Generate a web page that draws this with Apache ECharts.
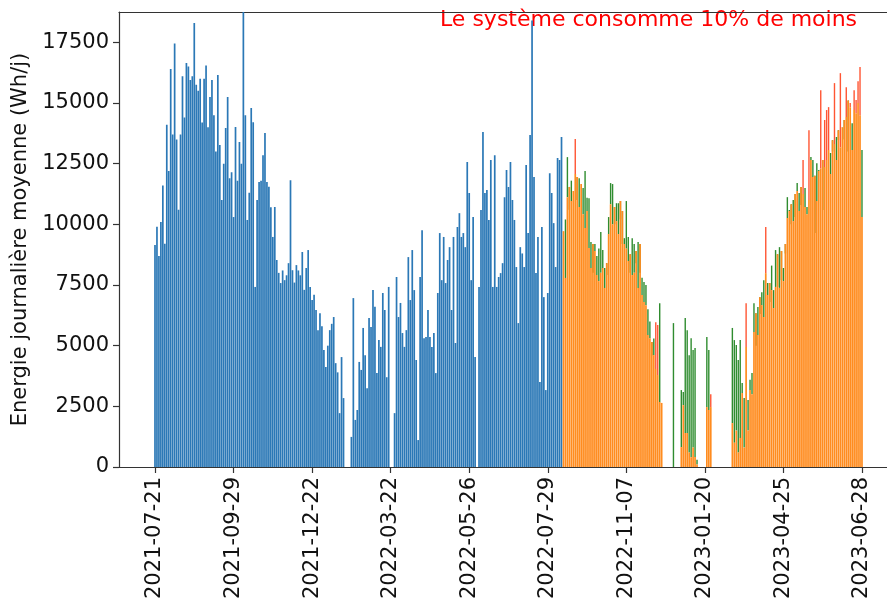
<!DOCTYPE html>
<html>
<head>
<meta charset="utf-8">
<title>Energie journalière moyenne</title>
<script src="https://cdn.jsdelivr.net/npm/echarts@6/dist/echarts.min.js"></script>
<style>
  html, body { margin: 0; padding: 0; background: #fff; }
  #chart { width: 887px; height: 607px; }
</style>
</head>
<body>
<div id="chart"></div>
<script>
// bar index -> date tick labels (one tick every 40 bars)
var xTickPos = [0, 40, 80, 120, 160, 200, 240, 280, 320, 360];
var xTickLabels = ['2021-07-21', '2021-09-29', '2021-12-22', '2022-03-22', '2022-05-26',
  '2022-07-29', '2022-11-07', '2023-01-20', '2023-04-25', '2023-06-28'];
var yTicks = [0, 2500, 5000, 7500, 10000, 12500, 15000, 17500];

// before the new system (bars 0..207)
var blueVals = [
  9150, 9900, 8700, 10100, 11600, 9200, 14100, 12200, 16400, 13700,
  17450, 13500, 10600, 13700, 16100, 14400, 16650, 16500, 15950, 16100,
  18300, 15750, 15500, 16000, 14200, 16000, 16550, 14000, 15250, 15950,
  14500, 13000, 16150, 13270, 11000, 12500, 13970, 15250, 11900, 12150,
  10300, 14010, 11800, 13390, 12500, 18750, 14500, 10180, 11300, 14790,
  14210, 7420, 11000, 11740, 11800, 12850, 13760, 11740, 11550, 10700,
  9480, 10710, 8530, 8000, 7580, 8100, 7700, 7900, 8400, 11820,
  8110, 7600, 8320, 8100, 7900, 8860, 7300, 8200, 8940, 7420,
  6880, 7100, 6470, 5640, 6340, 5800, 4820, 4120, 5000, 5640,
  5900, 6180, 4280, 3900, 2220, 4530, 2840, 0, 0, 0,
  1240, 6960, 1940, 2350, 4330, 4000, 5730, 4610, 3250, 6140,
  5770, 7290, 6600, 3870, 5230, 4950, 7170, 6470, 3700, 7420,
  0, 0, 2220, 7830, 6180, 6760, 5520, 4950, 5640, 8650,
  6880, 8940, 7290, 4410, 1110, 7830, 9760, 5310, 5360, 6470,
  5360, 4950, 5520, 3870, 7170, 9640, 7700, 9480, 7580, 8530,
  9060, 6470, 9480, 5110, 9890, 10460, 9480, 9640, 9060, 12570,
  11290, 7700, 10300, 4530, 0, 7420, 10590, 13800, 11290, 11410,
  10180, 12650, 7420, 12850, 7420, 7830, 7990, 8400, 11120, 12240,
  11540, 12570, 11000, 10180, 8240, 5930, 9060, 8800, 8240, 12440,
  9640, 13680, 18400, 11950, 7990, 9480, 3500, 9890, 7000, 3170,
  7170, 12110, 11290, 10050, 8240, 12730, 12650, 13600
];

// with the new system (bars 208..360)
var orangeStart = 208;
var orangeVals = [
  9720, 7790, 11120, 11540, 10960, 11370, 12070, 11950, 10710, 11660,
  10420, 9850, 10550, 9020, 8200, 9190, 8900, 7910, 7660, 8000,
  8200, 7380, 8400, 9600, 10830, 10000, 10710, 10130, 9600, 10960,
  10550, 9190, 9000, 8490, 8770, 7910, 8000, 8900, 7380, 9190,
  7090, 6800, 6670, 5440, 5310, 5150, 4610, 4040, 3790, 2680,
  2640, 0, 0, 0, 0, 0, 0, 0, 0, 0,
  820, 2550, 1400, 1400, 600, 400, 800, 410, 100, 0,
  0, 0, 0, 2470, 2350, 2470, 0, 0, 0, 0,
  0, 0, 0, 0, 0, 0, 1810, 1000, 1500, 600,
  1200, 3050, 800, 4950, 1500, 3170, 3000, 5560, 6340, 5440,
  7000, 6670, 6180, 7990, 7090, 7580, 7290, 6550, 7420, 8770,
  7380, 8900, 7660, 9190, 10260, 10550, 10830, 10130, 11250, 11370,
  10550, 11540, 11250, 10710, 10420, 11000, 12650, 11950, 12000, 10960,
  12200, 12300, 12650, 12360, 12650, 13060, 12070, 13470, 13310, 12650,
  13880, 13180, 14000, 14300, 14420, 15100, 14830, 13060, 14710, 14580,
  15000, 14500, 10300
];
// reference values shown as thin green / red marks against the orange bars
var greenVals = [
  null, 10200, 12770, 10600, 11800, null, null, 11000, 11900, null,
  11500, 12200, 11100, 11080, 9270, 8000, 9190, 8700, 9000, 9680,
  8940, 8200, 7910, 10300, 11700, 11660, 10000, 10870, 10870, 10200,
  9190, 9430, 10960, 9480, 8000, 9430, 9190, 8400, 9270, 8000,
  7800, 7620, 7500, 6500, 6000, 4610, 5300, null, null, 6750,
  null, null, null, null, null, null, 5930, null, null, null,
  3170, 3090, 6140, 5640, 4610, 5310, 4820, 4900, 300, null,
  null, null, null, 5360, 4820, null, null, null, null, null,
  null, null, null, null, null, null, 5730, 5230, 5030, 4410,
  5230, 3460, 2840, null, 2760, 3600, 3870, 6750, 5000, 6590,
  6300, 7200, 7700, null, 7580, 6800, 8300, 7290, 8940, 7420,
  9060, 7700, 8200, 8800, 11120, 10590, 10000, 11000, 10300, 11700,
  11290, 10800, null, 11500, 10710, null, 12770, 12650, 9640, 12520,
  12240, null, 10590, null, null, null, 12940, 13000, null, 13600,
  13470, null, 14010, 13500, null, 13000, null, 14170, null, null,
  null, null, 13060
];
var redVals = [
  null, null, null, null, null, null, 13520, null, null, null,
  null, null, null, null, null, null, null, null, null, null,
  null, null, null, null, null, null, null, null, null, null,
  null, null, null, null, null, null, null, null, null, null,
  null, null, null, null, null, null, null, 5970, 5850, null,
  null, null, null, null, null, null, null, null, null, null,
  null, null, null, null, null, null, null, null, null, null,
  null, null, null, null, null, 3000, null, null, null, null,
  null, null, null, null, null, null, null, null, null, null,
  null, null, null, 6750, null, null, null, null, null, null,
  null, null, null, 9890, null, null, null, null, null, null,
  null, null, null, null, null, null, null, null, null, null,
  null, null, 12650, null, null, 13880, null, null, null, null,
  null, 15530, null, 14300, 14710, 14830, null, null, 15820, null,
  null, 16230, null, null, 15650, null, 15000, null, 15530, 15120,
  15900, 16480, null
];

var annotation = 'Le système consomme 10% de moins';
var yName = 'Energie journalière moyenne (Wh/j)';

(function() {
  var font = 'DejaVu Sans';
  var axisColor = '#333';
  var xMin = -18.33, xMax = 372.74;

  var blueData = blueVals.map(function(v, k) { return [k, v]; });
  var orangeData = orangeVals.map(function(v, k) { return [orangeStart + k, v]; });

  // overlay marks span between the orange top and the reference value
  function rangeData(vals) {
    var out = [];
    vals.forEach(function(v, k) {
      if (v === null) return;
      var o = orangeVals[k];
      out.push([orangeStart + k, Math.min(o, v), Math.max(o, v)]);
    });
    return out;
  }

  function rangeSeries(data, color) {
    return {
      type: 'custom', silent: true, data: data,
      encode: { x: 0, y: [1, 2] },
      renderItem: function(params, api) {
        var lo = api.coord([api.value(0), api.value(1)]);
        var hi = api.coord([api.value(0), api.value(2)]);
        return {
          type: 'rect',
          shape: { x: lo[0] - 0.7, y: hi[1], width: 1.4, height: lo[1] - hi[1] },
          style: { fill: color }
        };
      }
    };
  }

  var chart = echarts.init(document.getElementById('chart'), null, { renderer: 'canvas' });
  chart.setOption({
    animation: false,
    grid: { left: 119, right: 0, top: 12, bottom: 140, outerBoundsMode: 'none' },
    graphic: [{
      type: 'text', left: 440, top: 9, silent: true,
      style: { text: annotation, fill: '#ff0000', font: '22px "DejaVu Sans"' }
    }],
    xAxis: [{
      type: 'value', min: xMin, max: xMax,
      axisLine: { show: true, onZero: false, lineStyle: { color: axisColor, width: 1.2 } },
      splitLine: { show: false },
      axisTick: { show: true, length: 6, customValues: xTickPos, lineStyle: { color: axisColor, width: 1.2 } },
      axisLabel: {
        customValues: xTickPos, rotate: 90, margin: 10,
        fontSize: 21, fontFamily: font, color: '#111',
        formatter: function(v) { var j = xTickPos.indexOf(v); return j < 0 ? '' : xTickLabels[j]; }
      }
    }, {
      type: 'value', min: xMin, max: xMax, position: 'top',
      axisLine: { show: true, onZero: false, lineStyle: { color: axisColor, width: 1.2 } },
      axisTick: { show: false }, axisLabel: { show: false }, splitLine: { show: false }
    }],
    yAxis: {
      type: 'value', min: 0, max: 18750,
      name: yName, nameLocation: 'middle', nameGap: 82,
      nameTextStyle: { fontSize: 21, fontFamily: font, color: '#111' },
      axisLine: { show: true, onZero: false, lineStyle: { color: axisColor, width: 1.2 } },
      splitLine: { show: false },
      axisTick: { show: true, length: 6, customValues: yTicks, lineStyle: { color: axisColor, width: 1.2 } },
      axisLabel: {
        customValues: yTicks, margin: 10, fontSize: 21, fontFamily: font, color: '#111',
        formatter: function(v) { return String(v); }
      }
    },
    series: [
      { type: 'bar', data: blueData, barWidth: 1.7, barGap: '-100%', silent: true,
        itemStyle: { color: '#2b78b6' } },
      { type: 'bar', data: orangeData, barWidth: 1.7, barGap: '-100%', silent: true,
        itemStyle: { color: '#ff8c1f' } },
      rangeSeries(rangeData(greenVals), 'rgba(10,120,10,0.85)'),
      rangeSeries(rangeData(redVals), 'rgba(255,55,15,0.85)')
    ]
  });
  window.addEventListener('resize', function() { chart.resize(); });
})();
</script>
</body>
</html>
